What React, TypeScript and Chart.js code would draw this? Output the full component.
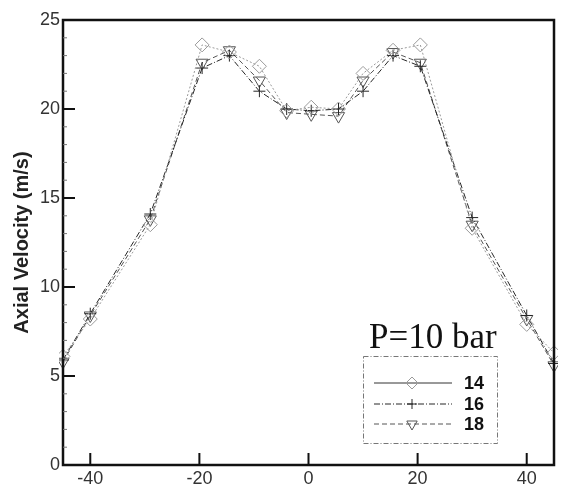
import React, { useEffect, useRef } from "react";
import { Chart, registerables } from "chart.js";

Chart.register(...registerables);

const xPositions = [-45, -40, -29, -19.5, -14.5, -9, -4, 0.5, 5.5, 10, 15.5, 20.5, 30, 40, 45];
const series14 = [6.1, 8.2, 13.5, 23.6, 23.2, 22.4, 19.9, 20.1, 20.0, 22.0, 23.3, 23.6, 13.3, 7.9, 6.3];
const series16 = [5.9, 8.5, 14.1, 22.3, 23.0, 21.0, 20.0, 19.9, 20.0, 21.0, 23.0, 22.4, 13.9, 8.4, 5.7];
const series18 = [5.8, 8.4, 13.8, 22.6, 23.3, 21.6, 19.8, 19.7, 19.6, 21.6, 23.2, 22.6, 13.5, 8.2, 5.6];
const seriesLabels = ["14", "16", "18"];
const xTicks = [-40, -20, 0, 20, 40];
const yTicks = [0, 5, 10, 15, 20, 25];
const yTitle = "Axial Velocity (m/s)";
const annotationText = "P=10 bar";

const styles = [
  { color: "#9a9a9a", dash: [2, 2], point: "rectRot", radius: 7, rotation: 0 },
  { color: "#262626", dash: [6, 2, 1, 2], point: "cross", radius: 6, rotation: 0 },
  { color: "#555555", dash: [5, 3], point: "triangle", radius: 7, rotation: 180 },
];

function drawMarker(ctx: CanvasRenderingContext2D, style: string, x: number, y: number, r: number, rot: number) {
  ctx.save();
  ctx.translate(x, y);
  ctx.rotate((rot * Math.PI) / 180);
  ctx.beginPath();
  if (style === "rectRot") {
    ctx.moveTo(0, -r);
    ctx.lineTo(r, 0);
    ctx.lineTo(0, r);
    ctx.lineTo(-r, 0);
    ctx.closePath();
  } else if (style === "cross") {
    ctx.moveTo(-r, 0);
    ctx.lineTo(r, 0);
    ctx.moveTo(0, -r);
    ctx.lineTo(0, r);
  } else {
    ctx.moveTo(0, -r);
    ctx.lineTo(r * 0.866, r * 0.5);
    ctx.lineTo(-r * 0.866, r * 0.5);
    ctx.closePath();
  }
  ctx.stroke();
  ctx.restore();
}

const frameAndLegend = {
  id: "frameAndLegend",
  afterDraw(chart: any) {
    const { ctx, chartArea } = chart;
    const { left, right, top, bottom } = chartArea;
    const xs = chart.scales.x;
    const ys = chart.scales.y;
    ctx.save();
    ctx.strokeStyle = "#111";
    ctx.lineWidth = 2.5;
    ctx.setLineDash([]);
    ctx.strokeRect(left, top, right - left, bottom - top);
    ctx.lineWidth = 2;
    ctx.beginPath();
    for (const v of yTicks) {
      const py = ys.getPixelForValue(v);
      ctx.moveTo(left, py);
      ctx.lineTo(left + 12, py);
    }
    for (const v of xTicks) {
      const px = xs.getPixelForValue(v);
      ctx.moveTo(px, bottom);
      ctx.lineTo(px, bottom - 12);
    }
    ctx.stroke();
    ctx.lineWidth = 1;
    ctx.strokeStyle = "#777";
    ctx.beginPath();
    for (let v = 1; v < 25; v++) {
      if (v % 5 === 0) continue;
      const py = ys.getPixelForValue(v);
      ctx.moveTo(left, py);
      ctx.lineTo(left + 4, py);
    }
    ctx.stroke();
    ctx.fillStyle = "#222";
    ctx.font = "bold 20px 'Liberation Sans', Arial, sans-serif";
    ctx.textAlign = "center";
    ctx.textBaseline = "middle";
    ctx.save();
    ctx.translate(22, (top + bottom) / 2);
    ctx.rotate(-Math.PI / 2);
    ctx.fillText(yTitle, 0, 0);
    ctx.restore();
    ctx.fillStyle = "#111";
    ctx.font = "35px 'Liberation Serif', 'Times New Roman', serif";
    ctx.textAlign = "left";
    ctx.textBaseline = "alphabetic";
    ctx.fillText(annotationText, 369, 348);
    ctx.strokeStyle = "#777";
    ctx.lineWidth = 1;
    ctx.setLineDash([5, 2, 1, 2]);
    ctx.strokeRect(363.5, 356.5, 134, 87);
    const rows = [383, 404, 424];
    rows.forEach((ry, i) => {
      const s = styles[i];
      ctx.strokeStyle = i === 0 ? "#333" : s.color;
      ctx.lineWidth = 1;
      ctx.setLineDash(i === 0 ? [] : s.dash);
      ctx.beginPath();
      ctx.moveTo(374, ry);
      ctx.lineTo(452, ry);
      ctx.stroke();
      ctx.setLineDash([]);
      ctx.strokeStyle = s.color;
      drawMarker(ctx, s.point, 412, ry, s.radius - 1, s.rotation);
      ctx.fillStyle = "#111";
      ctx.font = "bold 18px 'Liberation Sans', Arial, sans-serif";
      ctx.textAlign = "left";
      ctx.textBaseline = "middle";
      ctx.fillText(seriesLabels[i], 464, ry + 1);
    });
    ctx.restore();
  },
};

export default function App() {
  const ref = useRef<HTMLCanvasElement | null>(null);
  useEffect(() => {
    if (!ref.current) return;
    const all = [series14, series16, series18];
    const chart = new Chart(ref.current, {
      type: "line",
      data: {
        datasets: all.map((vals, i) => ({
          label: seriesLabels[i],
          data: vals.map((v, j) => ({ x: xPositions[j], y: v })),
          borderColor: styles[i].color,
          borderWidth: 1,
          borderDash: styles[i].dash,
          pointStyle: styles[i].point as any,
          pointRadius: styles[i].radius,
          pointRotation: styles[i].rotation,
          pointBorderColor: styles[i].color,
          pointBackgroundColor: "rgba(0,0,0,0)",
          pointBorderWidth: 1,
          fill: false,
          tension: 0,
          clip: 4,
        })),
      },
      options: {
        animation: false,
        responsive: false,
        maintainAspectRatio: false,
        layout: { padding: { top: 20, right: 2, left: 0, bottom: 0 } },
        plugins: { legend: { display: false }, tooltip: { enabled: false } },
        scales: {
          x: {
            type: "linear",
            min: -45,
            max: 45,
            grid: { display: false, drawTicks: false },
            border: { display: false },
            afterBuildTicks: (s: any) => {
              s.ticks = xTicks.map((v) => ({ value: v }));
            },
            afterFit: (s: any) => {
              s.height = 24;
            },
            ticks: {
              padding: 3,
              color: "#333",
              font: { family: "'Liberation Sans', Arial, sans-serif", size: 18 },
            },
          },
          y: {
            type: "linear",
            min: 0,
            max: 25,
            grid: { display: false, drawTicks: false },
            border: { display: false },
            afterBuildTicks: (s: any) => {
              s.ticks = yTicks.map((v) => ({ value: v }));
            },
            afterFit: (s: any) => {
              s.width = 63;
            },
            ticks: {
              padding: 3,
              color: "#333",
              font: { family: "'Liberation Sans', Arial, sans-serif", size: 18 },
            },
          },
        },
      },
      plugins: [frameAndLegend],
    });
    return () => chart.destroy();
  }, []);
  return (
    <div style={{ position: "fixed", left: 0, top: 0, width: 562, height: 489, background: "#fff" }}>
      <canvas ref={ref} width={562} height={489} style={{ width: 562, height: 489 }} />
    </div>
  );
}
